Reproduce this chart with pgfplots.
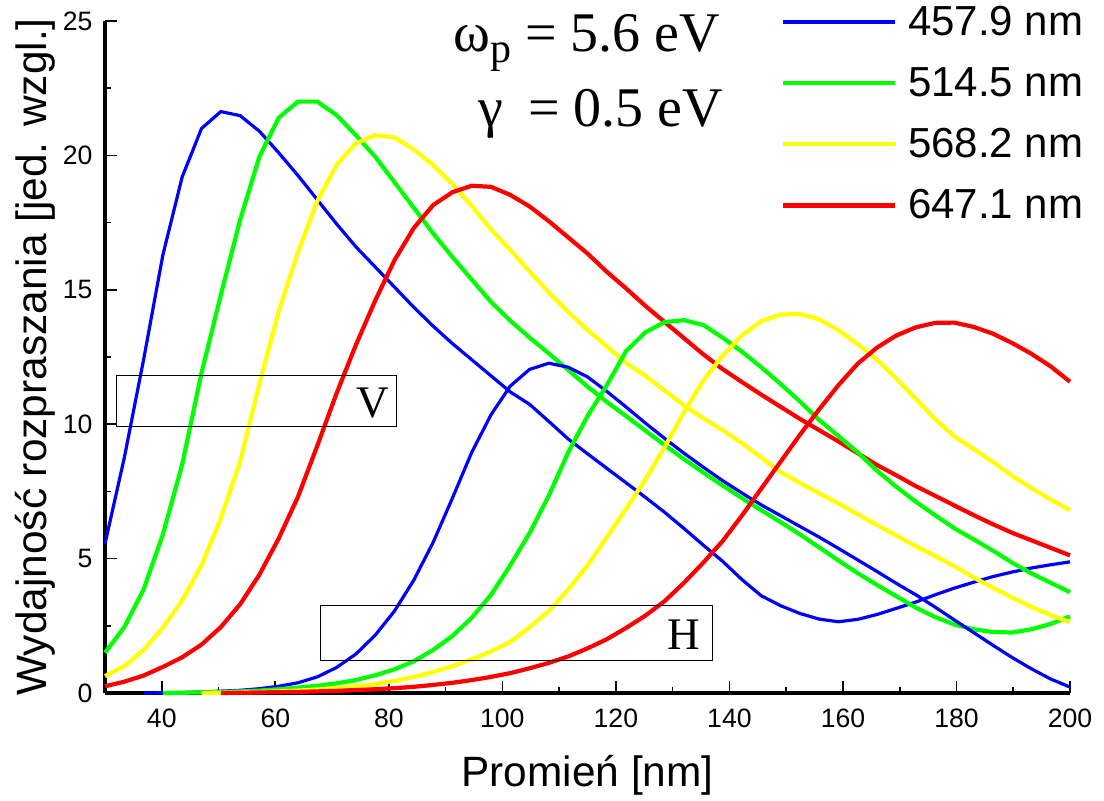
\documentclass[border=0pt]{standalone}
\usepackage{fontspec}
\setmainfont{Liberation Sans}
\newfontfamily\timesfont{Liberation Serif}
\usepackage{pgfplots}
\pgfplotsset{compat=1.18}
\definecolor{cblue}{RGB}{0,0,255}
\definecolor{cgreen}{RGB}{0,255,0}
\definecolor{cyellow}{RGB}{255,255,0}
\definecolor{cred}{RGB}{255,0,0}
\begin{document}
\begin{tikzpicture}[x=1pt,y=1pt]
\useasboundingbox (-52.5,-53.5) rectangle (499.5,346.5);
\begin{axis}[
  at={(0pt,0pt)}, anchor=south west,
  scale only axis, width=482.5pt, height=336pt,
  xmin=30, xmax=200, ymin=0, ymax=25,
  axis x line*=bottom, axis y line*=left,
  axis line style={line width=1.6pt, black, -},
  tick align=inside,
  xtick={40,60,...,200}, minor xtick={50,70,...,190},
  ytick={0,5,...,25}, minor ytick={2.5,7.5,...,22.5},
  major tick length=6pt, minor tick length=3pt,
  every tick/.style={black, line width=0.8pt},
  tick label style={font=\fontsize{13.3}{15}\selectfont},
  xticklabel style={yshift=-4.2pt},
  yticklabel style={xshift=-2.7pt},
  /pgf/number format/assume math mode=true,
  xlabel={Promień [nm]},
  ylabel={Wydajność rozpraszania [jed. wzgl.]},
  label style={font=\fontsize{21.2}{24}\selectfont},
  xlabel style={at={(axis description cs:0.5,-0.122)}, anchor=center},
  ylabel style={at={(axis description cs:-0.0725,0.5)}, anchor=center},
  clip=false,
  legend style={draw=none, fill=none, inner sep=0pt, outer sep=0pt,
    at={(rel axis cs:0.7005,1.0225)}, anchor=north west,
    font=\fontsize{21}{24}\selectfont,
    nodes={inner sep=0pt}, row sep=14.5pt, column sep=5.5pt},
  legend cell align=left,
  legend image code/.code={\draw[#1] (0pt,0pt) -- (56pt,0pt);},
]
% ---- 457.9 nm (blue) ----
\addplot[cblue, line width=1.6pt] table {
x y
30 5.55
33.4 8.75
36.8 12.4
40.2 16.3
43.6 19.2
47 21.0
50.4 21.63
53.8 21.48
57.2 20.9
60.6 20.1
64 19.25
67.4 18.35
70.8 17.45
74.2 16.6
77.6 15.85
81 15.1
84.4 14.35
87.8 13.65
91.2 13.0
94.6 12.4
98 11.8
101.4 11.2
104.8 10.74
108.2 10.1
111.6 9.45
115 8.9
118.4 8.36
121.8 7.82
125.2 7.28
128.6 6.72
132 6.12
135.4 5.5
138.8 4.9
142.2 4.22
145.6 3.62
149 3.25
152.4 2.96
155.8 2.75
159.2 2.65
162.6 2.74
166 2.92
169.4 3.15
172.8 3.38
176.2 3.65
179.6 3.9
183 4.12
186.4 4.33
189.8 4.5
193.2 4.65
196.6 4.77
200 4.88
};
\addlegendentry{457.9 nm}
% ---- 514.5 nm (green) ----
\addplot[cgreen, line width=2.1pt] table {
x y
30 1.5
33.4 2.45
36.8 3.85
40.2 5.9
43.6 8.5
47 11.9
50.4 14.8
53.8 17.6
57.2 19.95
60.6 21.4
64 22.0
67.4 22.0
70.8 21.5
74.2 20.75
77.6 19.95
81 19.0
84.4 18.05
87.8 17.1
91.2 16.22
94.6 15.38
98 14.55
101.4 13.85
104.8 13.22
108.2 12.63
111.6 12.02
115 11.4
118.4 10.83
121.8 10.3
125.2 9.76
128.6 9.22
132 8.7
135.4 8.2
138.8 7.72
142.2 7.25
145.6 6.8
149 6.36
152.4 5.9
155.8 5.42
159.2 4.93
162.6 4.46
166 4.02
169.4 3.6
172.8 3.18
176.2 2.83
179.6 2.55
183 2.37
186.4 2.27
189.8 2.25
193.2 2.37
196.6 2.57
200 2.85
};
\addlegendentry{514.5 nm}
% ---- 568.2 nm (yellow) ----
\addplot[cyellow, line width=2.1pt] table {
x y
30 0.63
33.4 1.0
36.8 1.6
40.2 2.43
43.6 3.45
47 4.75
50.4 6.5
53.8 8.6
57.2 11.5
60.6 14.2
64 16.4
67.4 18.3
70.8 19.65
74.2 20.45
77.6 20.75
81 20.67
84.4 20.22
87.8 19.64
91.2 18.93
94.6 18.12
98 17.25
101.4 16.48
104.8 15.68
108.2 14.9
111.6 14.18
115 13.5
118.4 12.9
121.8 12.27
125.2 11.8
128.6 11.25
132 10.7
135.4 10.22
138.8 9.78
142.2 9.3
145.6 8.76
149 8.22
152.4 7.82
155.8 7.43
159.2 7.05
162.6 6.65
166 6.25
169.4 5.86
172.8 5.47
176.2 5.1
179.6 4.72
183 4.3
186.4 3.92
189.8 3.55
193.2 3.2
196.6 2.9
200 2.63
};
\addlegendentry{568.2 nm}
% ---- 647.1 nm (red) ----
\addplot[cred, line width=2.1pt] table {
x y
30 0.25
33.4 0.42
36.8 0.65
40.2 0.97
43.6 1.33
47 1.8
50.4 2.45
53.8 3.3
57.2 4.4
60.6 5.75
64 7.3
67.4 9.2
70.8 11.15
74.2 12.95
77.6 14.6
81 16.1
84.4 17.3
87.8 18.15
91.2 18.63
94.6 18.87
98 18.83
101.4 18.53
104.8 18.1
108.2 17.55
111.6 16.95
115 16.35
118.4 15.67
121.8 15.05
125.2 14.4
128.6 13.8
132 13.2
135.4 12.6
138.8 12.05
142.2 11.57
145.6 11.1
149 10.65
152.4 10.2
155.8 9.78
159.2 9.36
162.6 8.92
166 8.48
169.4 8.1
172.8 7.7
176.2 7.34
179.6 6.98
183 6.62
186.4 6.28
189.8 5.96
193.2 5.68
196.6 5.4
200 5.12
};
\addlegendentry{647.1 nm}
% ---- H curves ----
\addplot[cblue, line width=1.6pt, forget plot] table {
x y
36.8 0
40.2 0.01
43.6 0.02
47 0.04
50.4 0.07
53.8 0.1
57.2 0.16
60.6 0.25
64 0.38
67.4 0.6
70.8 0.95
74.2 1.45
77.6 2.15
81 3.05
84.4 4.2
87.8 5.6
91.2 7.25
94.6 8.95
98 10.35
101.4 11.42
104.8 12.04
108.2 12.27
111.6 12.12
115 11.76
118.4 11.22
121.8 10.64
125.2 10.04
128.6 9.47
132 8.92
135.4 8.4
138.8 7.9
142.2 7.44
145.6 7.0
149 6.6
152.4 6.2
155.8 5.8
159.2 5.38
162.6 4.95
166 4.52
169.4 4.08
172.8 3.66
176.2 3.2
179.6 2.72
183 2.25
186.4 1.78
189.8 1.32
193.2 0.9
196.6 0.52
200 0.22
};
\addplot[cgreen, line width=2.1pt, forget plot] table {
x y
40.2 0
43.6 0.01
47 0.02
50.4 0.04
53.8 0.06
57.2 0.09
60.6 0.14
64 0.2
67.4 0.27
70.8 0.36
74.2 0.48
77.6 0.66
81 0.88
84.4 1.18
87.8 1.6
91.2 2.12
94.6 2.8
98 3.65
101.4 4.75
104.8 5.95
108.2 7.35
111.6 8.95
115 10.3
118.4 11.45
121.8 12.72
125.2 13.42
128.6 13.8
132 13.87
135.4 13.69
138.8 13.22
142.2 12.7
145.6 12.12
149 11.5
152.4 10.85
155.8 10.16
159.2 9.56
162.6 8.95
166 8.27
169.4 7.67
172.8 7.12
176.2 6.62
179.6 6.13
183 5.72
186.4 5.3
189.8 4.85
193.2 4.45
196.6 4.1
200 3.75
};
\addplot[cyellow, line width=2.1pt, forget plot] table {
x y
47 0
50.4 0.01
53.8 0.02
57.2 0.04
60.6 0.06
64 0.09
67.4 0.13
70.8 0.18
74.2 0.25
77.6 0.33
81 0.45
84.4 0.6
87.8 0.78
91.2 1.0
94.6 1.25
98 1.55
101.4 1.9
104.8 2.45
108.2 3.05
111.6 3.85
115 4.75
118.4 5.8
121.8 6.85
125.2 7.95
128.6 9.15
132 10.45
135.4 11.62
138.8 12.55
142.2 13.3
145.6 13.83
149 14.08
152.4 14.1
155.8 13.9
159.2 13.5
162.6 12.98
166 12.4
169.4 11.7
172.8 10.95
176.2 10.2
179.6 9.55
183 9.08
186.4 8.6
189.8 8.08
193.2 7.62
196.6 7.2
200 6.8
};
\addplot[cred, line width=2.1pt, forget plot] table {
x y
50.4 0
53.8 0.01
57.2 0.02
60.6 0.03
64 0.04
67.4 0.06
70.8 0.08
74.2 0.11
77.6 0.14
81 0.18
84.4 0.23
87.8 0.3
91.2 0.38
94.6 0.48
98 0.6
101.4 0.74
104.8 0.92
108.2 1.12
111.6 1.36
115 1.66
118.4 2.0
121.8 2.42
125.2 2.88
128.6 3.42
132 4.1
135.4 4.85
138.8 5.65
142.2 6.6
145.6 7.6
149 8.6
152.4 9.6
155.8 10.55
159.2 11.45
162.6 12.25
166 12.85
169.4 13.3
172.8 13.6
176.2 13.77
179.6 13.78
183 13.62
186.4 13.37
189.8 13.02
193.2 12.62
196.6 12.15
200 11.58
};
% ---- annotations ----
\draw[black, line width=0.5pt] (axis cs:32.1,9.9) rectangle (axis cs:81.4,11.83);
\node[font=\timesfont\fontsize{22.6}{24}\selectfont] at (axis cs:77.2,10.79) {V};
\draw[black, line width=0.5pt] (axis cs:68.05,1.2) rectangle (axis cs:137.1,3.25);
\node[font=\timesfont\fontsize{22.6}{24}\selectfont] at (axis cs:132.0,2.16) {H};
\node[anchor=base west, inner sep=0pt, font=\timesfont\fontsize{28}{30}\selectfont]
  at (axis cs:91.3,23.85) {ω\raisebox{-5.5pt}{\fontsize{21}{21}\selectfont p} = 5.6 eV};
\node[anchor=base west, inner sep=0pt, font=\timesfont\fontsize{28}{30}\selectfont]
  at (axis cs:95.7,21.06) {γ\hspace{0.45em}= 0.5 eV};
\end{axis}
\end{tikzpicture}
\end{document}
